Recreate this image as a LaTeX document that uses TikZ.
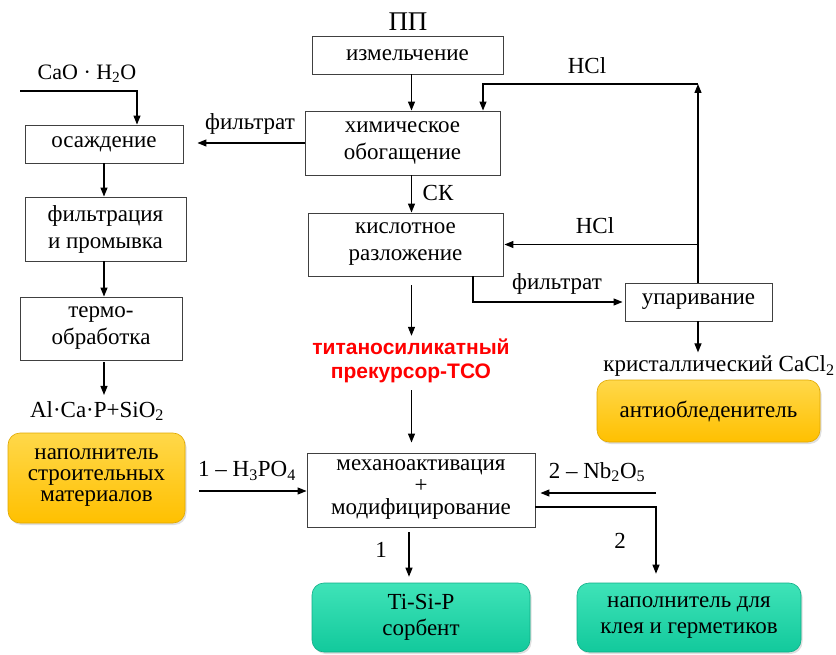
\documentclass[tikz,border=0pt]{standalone}
\usepackage{fontspec}
\setmainfont{Liberation Serif}
\newfontfamily\redfont{Liberation Sans}
\usetikzlibrary{arrows.meta,shadows,calc}
\definecolor{boxline}{HTML}{404040}
\definecolor{yelTop}{HTML}{FFD84A}
\definecolor{yelBot}{HTML}{FFC000}
\definecolor{yelLine}{HTML}{E0A800}
\definecolor{grTop}{HTML}{3FE3B8}
\definecolor{grBot}{HTML}{12C99C}
\definecolor{grLine}{HTML}{0FAE87}
\begin{document}
\begin{tikzpicture}[x=1pt,y=-1pt,
  box/.style={draw=boxline, line width=0.9pt, fill=white, inner sep=0pt, align=center,
    font=\fontsize{23}{27}\selectfont},
  ybox/.style={rounded corners=12pt, draw=yelLine, line width=0.6pt, top color=yelTop, bottom color=yelBot,
    inner sep=0pt, align=center, font=\fontsize{23}{21}\selectfont,
    drop shadow={opacity=0.25, shadow xshift=1.5pt, shadow yshift=-2pt}},
  gbox/.style={rounded corners=12pt, draw=grLine, line width=0.6pt, top color=grTop, bottom color=grBot,
    inner sep=0pt, align=center, font=\fontsize{23}{26}\selectfont,
    drop shadow={opacity=0.25, shadow xshift=1.5pt, shadow yshift=-2pt}},
  lab/.style={inner sep=0pt, font=\fontsize{23}{27}\selectfont},
  arr/.style={-{Triangle[length=9pt,width=7pt]}, line width=1.2pt},
  ln/.style={line width=1.2pt}
]
\useasboundingbox (0,0) rectangle (836,655);

% process boxes
\node[box, minimum width=191pt, minimum height=38pt] (izm) at (407.5,55) {измельчение};
\node[box, minimum width=195pt, minimum height=64pt] (chem) at (402.5,143) {химическое\\обогащение};
\node[box, minimum width=158pt, minimum height=38pt] (osazh) at (104,144) {осаждение};
\node[box, minimum width=161pt, minimum height=64pt] (filtr) at (105.5,229) {фильтрация\\и промывка};
\node[box, minimum width=162pt, minimum height=63pt] (termo) at (101,328.5) {термо-\\обработка};
\node[box, minimum width=195pt, minimum height=63pt] (kisl) at (405.5,244.5) {кислотное\\разложение};
\node[box, minimum width=147pt, minimum height=38pt] (upar) at (698.5,302) {упаривание};
\node[box, minimum width=228pt, minimum height=74pt, font=\fontsize{23}{22}\selectfont] (meh) at (421,490) {механоактивация\\+\\модифицирование};

% product boxes
\node[ybox, minimum width=177pt, minimum height=90pt] (yel1) at (96.5,478) {наполнитель\\строительных\\материалов};
\node[ybox, minimum width=223pt, minimum height=62pt] (yel2) at (708.5,411) {антиобледенитель};
\node[gbox, minimum width=218pt, minimum height=69pt] (gr1) at (421,617.5) {Ti-Si-P\\сорбент};
\node[gbox, minimum width=224pt, minimum height=69pt] (gr2) at (689,617.5) {наполнитель для\\клея и герметиков};

% labels
\node[lab, font=\fontsize{27}{27}\selectfont] (pp) at (408,22) {ПП};
\node[lab, font=\fontsize{22}{26}\selectfont] (cao) at (87,74) {CaO · H\textsubscript{2}O};
\node[lab] (filt1) at (250,124) {фильтрат};
\node[lab] (hcl1) at (587,66) {HCl};
\node[lab] (sk) at (438,193) {СК};
\node[lab] (hcl2) at (595,226) {HCl};
\node[lab] (filt2) at (557,284) {фильтрат};
\node[lab] (cacl) at (719,366) {кристаллический CaCl\textsubscript{2}};
\node[lab] (alcap) at (97,411) {Al·Ca·P+SiO\textsubscript{2}};
\node[inner sep=0pt, align=center, text=red, font=\redfont\bfseries\fontsize{21}{24}\selectfont] (red) at (411,361) {титаносиликатный\\прекурсор-ТСО};
\node[lab] (h3) at (247,471) {1 – H\textsubscript{3}PO\textsubscript{4}};
\node[lab] (nb) at (597,472) {2 – Nb\textsubscript{2}O\textsubscript{5}};
\node[lab] (one) at (381,550) {1};
\node[lab] (two) at (620,541) {2};

% helper coordinates
\coordinate (sp) at (411.5,0);
\coordinate (lsp) at (104,0);
\coordinate (caoA) at (20,91);
\coordinate (caoX) at (137,0);
\coordinate (hclTop) at (698,84);
\coordinate (hclIn) at (483,0);
\coordinate (fk) at (473,0);
\coordinate (hp) at (199,491);
\coordinate (nbA) at (656,493);
\coordinate (twoX) at (656,507);
\coordinate (oneX) at (409,0);

% connectors - central column
\draw[arr] (izm.south -| sp) -- (chem.north -| sp);
\draw[arr] (chem.south -| sp) -- (kisl.north -| sp);
\draw[arr, shorten <=9pt] (kisl.south -| sp) -- ($(red.north -| sp)+(0,-3)$);
\draw[arr, shorten >=10pt] ($(red.south -| sp)+(0,7)$) -- (meh.north -| sp);
\draw[arr, shorten <=5pt, shorten >=6pt] (meh.south -| oneX) -- (gr1.north -| oneX);

% left column
\draw[arr] (caoA) -| (osazh.north -| caoX);
\draw[arr, shorten >=14pt] (chem.west) -- (chem.west -| osazh.east);
\draw[arr] (osazh.south -| lsp) -- (filtr.north -| lsp);
\draw[arr] (filtr.south -| lsp) -- (termo.north -| lsp);
\draw[arr, shorten <=2pt] (termo.south -| lsp) -- ($(alcap.north -| lsp)+(0,-6)$);

% right side loop
\draw[arr] (upar.north -| hclTop) -- (hclTop);
\draw[arr] (hclTop) -| (chem.north -| hclIn);
\draw[arr, shorten >=1pt] (kisl.east -| hclTop) -- (kisl.east);
\draw[arr, shorten >=2pt] (kisl.south -| fk) |- (upar.west);
\draw[arr] (upar.south -| hclTop) -- ($(cacl.north -| hclTop)+(0,-3)$);

% modification inputs/outputs
\draw[arr] (hp) -- (hp -| meh.west);
\draw[arr, shorten >=5pt] (nbA) -- (nbA -| meh.east);
\draw[arr, shorten >=9pt] (twoX -| meh.east) -| (gr2.north -| twoX);
\end{tikzpicture}
\end{document}
